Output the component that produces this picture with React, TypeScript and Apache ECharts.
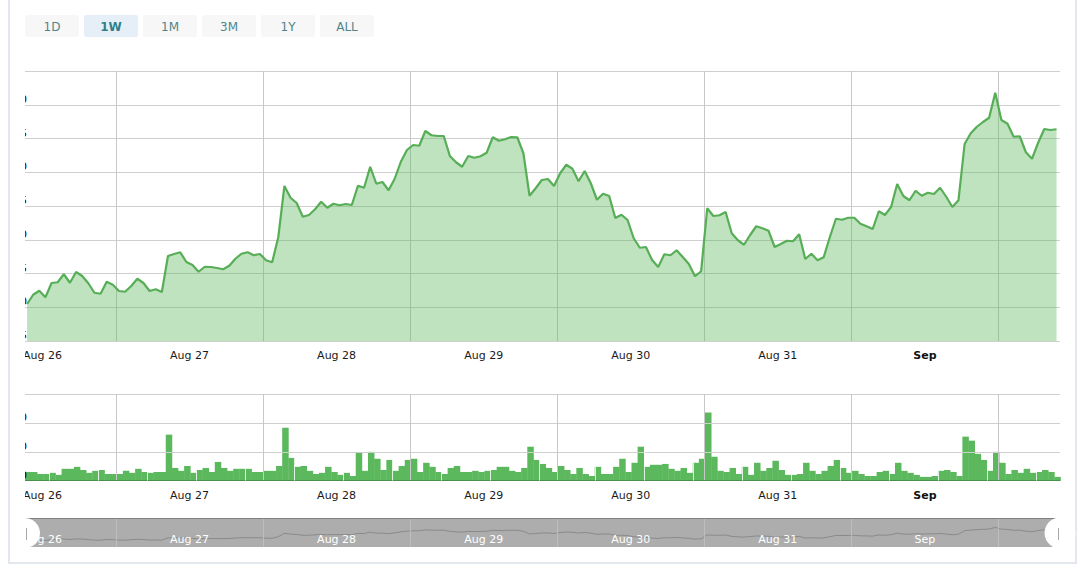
import React, { useEffect, useRef } from "react";
import * as echarts from "echarts";

const prices = [
  6763, 6800, 6816, 6790, 6847, 6850, 6882, 6848, 6891, 6875, 6846, 6808, 6804, 6852, 6840, 6815, 6812, 6835, 6864, 6847,
  6815, 6822, 6811, 6955, 6963, 6970, 6931, 6919, 6892, 6912, 6911, 6907, 6902, 6916, 6944, 6964, 6970, 6958, 6963, 6938,
  6930, 7030, 7235, 7188, 7167, 7112, 7119, 7142, 7172, 7148, 7164, 7158, 7163, 7159, 7236, 7228, 7312, 7244, 7251, 7218,
  7264, 7332, 7379, 7399, 7396, 7455, 7438, 7435, 7435, 7355, 7330, 7312, 7355, 7348, 7354, 7368, 7430, 7416, 7422, 7431,
  7430, 7366, 7196, 7226, 7259, 7263, 7235, 7286, 7320, 7304, 7254, 7295, 7246, 7180, 7204, 7195, 7107, 7120, 7099, 7026,
  6988, 6991, 6939, 6911, 6962, 6958, 6978, 6951, 6923, 6874, 6894, 7146, 7115, 7118, 7131, 7046, 7018, 7000, 7039, 7074,
  7066, 7056, 6991, 7003, 7016, 7014, 7042, 6943, 6964, 6938, 6950, 7030, 7104, 7100, 7108, 7108, 7084, 7074, 7063, 7134,
  7119, 7151, 7243, 7195, 7178, 7216, 7196, 7208, 7203, 7228, 7192, 7151, 7178, 7403, 7446, 7472, 7491, 7508, 7608, 7499,
  7484, 7432, 7434, 7370, 7344, 7408, 7463, 7459, 7462,
];

const volumes = [
  30, 30, 23, 23, 27, 20, 41, 41, 48, 37, 27, 34, 37, 23, 23, 23, 34, 27, 41, 30,
  27, 30, 30, 160, 44, 34, 51, 27, 37, 44, 30, 65, 44, 34, 41, 41, 41, 30, 30, 34,
  34, 51, 184, 79, 48, 51, 34, 23, 27, 48, 30, 20, 27, 16, 97, 34, 100, 76, 37, 72,
  34, 51, 72, 76, 30, 62, 48, 30, 23, 44, 51, 30, 30, 34, 30, 34, 37, 48, 48, 34,
  30, 44, 118, 72, 58, 44, 30, 51, 37, 23, 44, 23, 16, 48, 23, 23, 48, 76, 30, 62,
  118, 48, 55, 55, 58, 41, 34, 44, 27, 62, 76, 237, 83, 34, 30, 44, 23, 48, 20, 62,
  34, 44, 69, 37, 20, 20, 23, 62, 34, 23, 34, 51, 72, 44, 27, 34, 23, 16, 16, 30,
  34, 23, 62, 34, 27, 20, 13, 13, 16, 34, 37, 30, 16, 153, 139, 93, 72, 34, 100, 62,
  23, 37, 27, 41, 27, 30, 37, 30, 13,
];

// bars whose left edge shows a white hairline in the picture
const separatorBars = [4, 12, 20, 28, 36, 44, 52, 60, 68, 76, 84, 93, 101, 109, 117, 125, 133, 141, 149, 157, 165];

const HOUR = 3600000;
const priceStart = Date.UTC(2018, 7, 26, 9, 29);
const volumeStart = Date.UTC(2018, 7, 26, 9, 39);
const axisMin = Date.UTC(2018, 7, 26, 9, 9);
const axisMax = Date.UTC(2018, 8, 2, 10, 3);

const dayLines = [27, 28, 29, 30, 31, 32, 33].map((d) => Date.UTC(2018, 7, d));
const dayLabels = [
  { time: Date.UTC(2018, 7, 26, 12), text: "Aug 26" },
  { time: Date.UTC(2018, 7, 27, 12), text: "Aug 27" },
  { time: Date.UTC(2018, 7, 28, 12), text: "Aug 28" },
  { time: Date.UTC(2018, 7, 29, 12), text: "Aug 29" },
  { time: Date.UTC(2018, 7, 30, 12), text: "Aug 30" },
  { time: Date.UTC(2018, 7, 31, 12), text: "Aug 31" },
  { time: Date.UTC(2018, 8, 1, 12), text: "Sep" },
];
const rangeButtons = ["1D", "1W", "1M", "3M", "1Y", "ALL"];
const activeButton = "1W";

const FONT = '"DejaVu Sans", Verdana, sans-serif';
const GREEN = "#5cb85c";

const labelFor = (value: number) => dayLabels.find((d) => d.time === value)?.text ?? "";

const barSeparators = separatorBars.map((i) => {
  const t = volumeStart + i * HOUR - HOUR / 2;
  return [{ coord: [t, 0] }, { coord: [t, Math.max(volumes[i - 1], volumes[i])] }];
});

// plain value axis holding timestamps: a time axis can't take customValues
const timeAxis = (gridIndex: number, extra: any = {}) => ({
  type: "value",
  gridIndex,
  min: axisMin,
  max: axisMax,
  axisLine: { show: false },
  axisTick: { show: false, customValues: dayLines },
  splitLine: { show: true, lineStyle: { color: "#c8c8c8", width: 1 } },
  ...extra,
});

const mainLabel = {
  customValues: dayLabels.map((d) => d.time),
  hideOverlap: false,
  margin: 9,
  fontFamily: FONT,
  fontSize: 11,
  color: "#1a1a1a",
  formatter: (value: number) => {
    const text = labelFor(value);
    return text === "Sep" ? `{bold|${text}}` : text;
  },
  rich: { bold: { fontFamily: FONT, fontSize: 11, fontWeight: "bold", color: "#111" } },
};

// only the last digit of these labels can be read, the rest is cut off in the picture
const yLabel = {
  showMaxLabel: false,
  margin: -2,
  verticalAlign: "bottom",
  fontFamily: FONT,
  fontSize: 11,
  color: "#000",
  formatter: (value: number) => String(value).slice(-1),
};

const App: React.FC = () => {
  const chartRef = useRef<HTMLDivElement>(null);

  useEffect(() => {
    if (!chartRef.current) return;
    const chart = echarts.init(chartRef.current, undefined, { renderer: "svg" });

    const buttons = rangeButtons.flatMap((label, i) => {
      const active = label === activeButton;
      const x = 25 + i * 59;
      return [
        {
          type: "rect",
          shape: { x, y: 15, width: 54, height: 22, r: 2 },
          style: { fill: active ? "#e6eff8" : "#f7f7f7" },
          silent: true,
        },
        {
          type: "text",
          x: x + 27,
          y: 27,
          style: {
            text: label,
            fill: active ? "#2f7f8a" : "#4f868c",
            font: `${active ? "bold " : ""}12px ${FONT}`,
            align: "center",
            verticalAlign: "middle",
          },
          silent: true,
        },
      ];
    });

    chart.setOption({
      animation: false,
      backgroundColor: "#fff",
      grid: [
        { left: 25, width: 1035, top: 71, height: 270, outerBoundsMode: "none" },
        { left: 25, width: 1035, top: 394.4, height: 86.2, outerBoundsMode: "none" },
        { left: 25, width: 1035, top: 518, height: 29, z: -5, show: true, backgroundColor: "#adadad", borderWidth: 0, outerBoundsMode: "none" },
      ],
      xAxis: [
        timeAxis(0, { axisLabel: mainLabel }),
        timeAxis(1, {
          axisLabel: mainLabel,
          axisLine: { show: true, onZero: false, lineStyle: { color: "#4a8f4a", width: 1 } },
        }),
        timeAxis(2, {
          axisLine: { show: true, onZero: false, lineStyle: { color: "#808080", width: 1 } },
          position: "top",
          splitLine: { show: true, lineStyle: { color: "#bdbdbd", width: 1 } },
          axisLabel: { show: false },
        }),
        timeAxis(2, {
          position: "bottom",
          splitLine: { show: false },
          axisLabel: {
            customValues: dayLabels.map((d) => d.time),
            inside: true,
            margin: 2,
            fontFamily: FONT,
            fontSize: 11,
            color: "#fff",
            formatter: (value: number) => labelFor(value),
          },
        }),
      ],
      yAxis: [
        {
          type: "value",
          gridIndex: 0,
          min: 6615,
          max: 7695,
          interval: 135,
          axisLine: { show: false },
          axisTick: { show: false },
          splitLine: { lineStyle: { color: "#cfcfcf", width: 1 } },
          axisLabel: yLabel,
        },
        {
          type: "value",
          gridIndex: 1,
          min: 0,
          max: 300,
          interval: 100,
          axisLine: { show: false },
          axisTick: { show: false },
          splitLine: { lineStyle: { color: "#cfcfcf", width: 1 } },
          axisLabel: yLabel,
        },
        {
          type: "value",
          gridIndex: 2,
          min: 6380,
          max: 8200,
          axisLine: { show: false },
          axisTick: { show: false },
          axisLabel: { show: false },
          splitLine: { show: false },
        },
      ],
      series: [
        {
          type: "line",
          xAxisIndex: 0,
          yAxisIndex: 0,
          data: prices.map((p, i) => [priceStart + i * HOUR, p]),
          showSymbol: false,
          lineStyle: { color: "#57ae57", width: 2.2 },
          areaStyle: { color: GREEN, opacity: 0.4 },
        },
        {
          type: "bar",
          xAxisIndex: 1,
          yAxisIndex: 1,
          z: -1,
          data: volumes.map((v, i) => [volumeStart + i * HOUR, v]),
          barWidth: 6.5,
          itemStyle: { color: GREEN },
          markLine: {
            silent: true,
            symbol: "none",
            label: { show: false },
            lineStyle: { color: "#fff", width: 0.8, type: "solid" },
            data: barSeparators,
          },
        },
        {
          type: "line",
          xAxisIndex: 2,
          yAxisIndex: 2,
          z: -1,
          data: prices.map((p, i) => [priceStart + i * HOUR, p]),
          showSymbol: false,
          lineStyle: { color: "#8a8a8a", width: 1 },
        },
      ],
      graphic: [
        // mask that cuts the axis labels off at the plot's left edge
        { type: "rect", shape: { x: 11, y: 60, width: 14, height: 445 }, style: { fill: "#fff" }, silent: true, z: 100 },
        { type: "polyline", shape: { points: [[9, 0], [9, 563], [1076, 563], [1076, 0]] }, style: { stroke: "#e3e8ef", lineWidth: 2, fill: "none" }, silent: true, z: 100 },
        { type: "circle", shape: { cx: 25, cy: 533, r: 15 }, style: { fill: "#fff" }, silent: true, z: 100 },
        { type: "circle", shape: { cx: 1060, cy: 533, r: 15.5 }, style: { fill: "#fff" }, silent: true, z: 100 },
        { type: "line", shape: { x1: 26.5, y1: 528, x2: 26.5, y2: 540 }, style: { stroke: "#a8a8a8", lineWidth: 1 }, silent: true, z: 101 },
        { type: "line", shape: { x1: 1058.5, y1: 528, x2: 1058.5, y2: 540 }, style: { stroke: "#a8a8a8", lineWidth: 1 }, silent: true, z: 101 },
        ...buttons,
      ],
    });

    return () => {
      chart.dispose();
    };
  }, []);

  return (
    <div
      ref={chartRef}
      style={{ position: "fixed", left: 0, top: 0, width: 1088, height: 574, background: "#fff" }}
    />
  );
};

export default App;
